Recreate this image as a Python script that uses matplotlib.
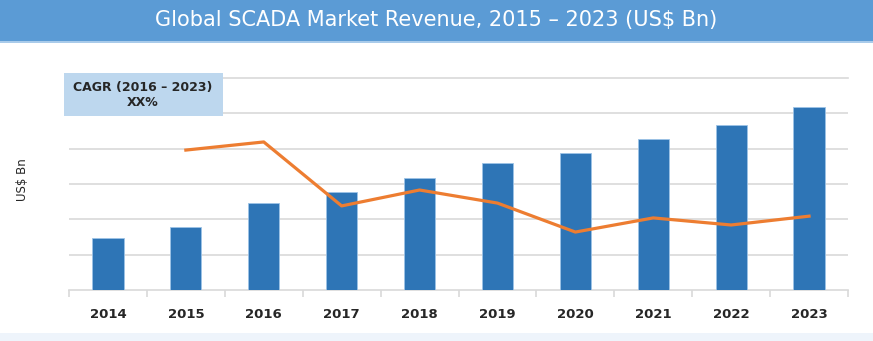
import numpy as np
import matplotlib.pyplot as plt
from matplotlib.patches import Rectangle

years = ['2014', '2015', '2016', '2017', '2018', '2019', '2020', '2021', '2022', '2023']
revenue = [1.47, 1.78, 2.46, 2.77, 3.17, 3.59, 3.88, 4.27, 4.67, 5.18]
growth_years = years[1:]
growth = [3.96, 4.19, 2.38, 2.83, 2.46, 1.64, 2.04, 1.84, 2.09]

W, H = 873, 341
fig = plt.figure(figsize=(W / 100, H / 100), dpi=100)

# title bar
fig.patches.append(Rectangle((0, 1 - 41 / H), 1, 41 / H, transform=fig.transFigure,
                             facecolor='#5B9BD5', edgecolor='none', zorder=0))
fig.patches.append(Rectangle((0, 1 - 43 / H), 1, 2 / H, transform=fig.transFigure,
                             facecolor='#A9CBEA', edgecolor='none', zorder=0))
# bottom band
fig.patches.append(Rectangle((0, 0), 1, 8 / H, transform=fig.transFigure,
                             facecolor='#EEF4FB', edgecolor='none', zorder=0))
fig.text(0.5, 1 - 20 / H, 'Global SCADA Market Revenue, 2015 \u2013 2023 (US$ Bn)',
         ha='center', va='center', color='white', fontsize=15)

ax = fig.add_axes([69 / W, 1 - 290 / H, (848 - 69) / W, (290 - 78) / H])
x = np.arange(len(years))
ax.bar(x, revenue, width=0.4, color='#2E75B6', edgecolor='#9DC3E6', linewidth=0.6, zorder=3)
gx = [years.index(y) for y in growth_years]
ax.plot(gx, growth, color='#ED7D31', linewidth=2.3, zorder=4)

ax.set_xlim(-0.5, len(years) - 0.5)
ax.set_ylim(0, 6)
ax.set_yticks(np.arange(1, 7))
ax.set_yticklabels([])
ax.tick_params(axis='y', length=0)
ax.grid(axis='y', color='#D9D9D9', linewidth=1.2, zorder=0)
for s in ['top', 'right', 'left']:
    ax.spines[s].set_visible(False)
ax.spines['bottom'].set_color('#D9D9D9')
ax.spines['bottom'].set_linewidth(1.2)
ax.set_xticks(x)
ax.set_xticklabels(years, fontsize=9.5, fontweight='bold', color='#262626')
ax.set_xticks(np.arange(-0.5, len(years)), minor=True)
ax.tick_params(axis='x', which='major', length=0, pad=13)
ax.tick_params(axis='x', which='minor', length=5, color='#D9D9D9', width=1.2)
ax.get_ygridlines()[-1].set_clip_on(False)

fig.text(22 / W, 1 - 180 / H, 'US$ Bn', rotation=90, ha='center', va='center',
         fontsize=8.5, color='#262626')

# CAGR box
fig.patches.append(Rectangle((64 / W, 1 - 116 / H), (223 - 64) / W, 43 / H,
                             transform=fig.transFigure, facecolor='#BDD7EE',
                             edgecolor='none', zorder=5))
fig.text(143 / W, 1 - 95 / H, 'CAGR (2016 \u2013 2023)\nXX%', ha='center', va='center',
         fontsize=9, fontweight='bold', color='#262626', linespacing=1.3, zorder=6)

fig.savefig('out.png', dpi=100)
